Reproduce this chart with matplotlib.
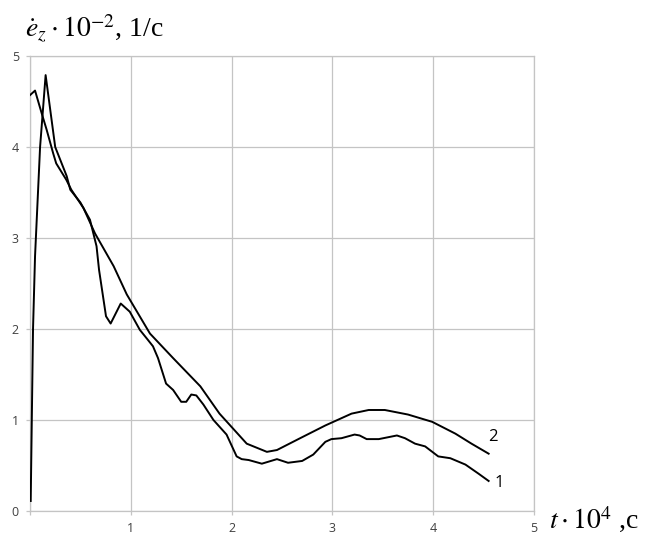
import numpy as np
import matplotlib
matplotlib.use("Agg")
import matplotlib.pyplot as plt

plt.rcParams['mathtext.fontset'] = 'stix'

# curve 1: strain rate, with initial jump
t1 = [0.007, 0.03, 0.05, 0.10, 0.155, 0.25, 0.364, 0.40, 0.50, 0.595, 0.66, 0.685,
      0.754, 0.80, 0.90, 0.99, 1.09, 1.17, 1.22, 1.27, 1.35, 1.42, 1.50, 1.55, 1.60,
      1.65, 1.72, 1.82, 1.95, 2.05, 2.10, 2.17, 2.30, 2.45, 2.56, 2.70, 2.81, 2.93,
      2.99, 3.09, 3.22, 3.27, 3.34, 3.46, 3.64, 3.72, 3.82, 3.92, 4.05, 4.17, 4.32,
      4.45, 4.55]
e1 = [0.11, 2.0, 2.8, 4.0, 4.79, 4.0, 3.68, 3.53, 3.39, 3.2, 2.91, 2.65,
      2.14, 2.06, 2.28, 2.19, 1.99, 1.88, 1.81, 1.68, 1.40, 1.33, 1.20, 1.20, 1.28,
      1.27, 1.17, 1.0, 0.84, 0.60, 0.57, 0.56, 0.52, 0.57, 0.53, 0.55, 0.62, 0.76,
      0.79, 0.80, 0.84, 0.83, 0.79, 0.79, 0.83, 0.80, 0.74, 0.71, 0.60, 0.58, 0.51,
      0.41, 0.33]

# curve 2: smooth one
t2 = [0.0, 0.05, 0.116, 0.165, 0.23, 0.26, 0.36, 0.41, 0.53, 0.645, 0.83, 0.96,
      1.19, 1.42, 1.69, 1.88, 2.15, 2.35, 2.45, 2.68, 2.93, 3.19, 3.36, 3.52, 3.75,
      3.99, 4.22, 4.38, 4.55]
e2 = [4.57, 4.62, 4.37, 4.19, 3.93, 3.82, 3.64, 3.53, 3.33, 3.05, 2.69, 2.38,
      1.95, 1.68, 1.37, 1.07, 0.74, 0.65, 0.67, 0.80, 0.94, 1.07, 1.11, 1.11, 1.06,
      0.98, 0.85, 0.74, 0.63]

ticks = [0, 1, 2, 3, 4, 5]

fig = plt.figure(figsize=(6.5, 5.36), dpi=100)
ax = fig.add_axes([30/650, 25/536, 504/650, 455/536])

gc = '#c4c4c4'
ax.plot(t1, e1, color='black', lw=1.4, zorder=3)
ax.plot(t2, e2, color='black', lw=1.4, zorder=3)

ax.set_xlim(0, 5)
ax.set_ylim(0, 5)
ax.set_xticks(ticks)
ax.set_yticks(ticks)
ax.set_xticklabels(['', '1', '2', '3', '4', '5'])
ax.grid(True, color=gc, lw=0.9)
for s in ax.spines.values():
    s.set_color(gc)
    s.set_linewidth(0.9)
ax.tick_params(length=3, width=0.9, color=gc, labelcolor='#404040', pad=5)
for lab in ax.get_xticklabels() + ax.get_yticklabels():
    lab.set_family('Open Sans')
    lab.set_fontsize(9)

# curve numbers
ax.text(4.59, 0.81, '2', family='Open Sans', fontsize=12, ha='center', va='center')
ax.text(4.65, 0.31, '1', family='Open Sans', fontsize=12, ha='center', va='center')

# axis titles
fig.text(25/650, (536-37)/536, r'$\dot{e}_z\cdot 10^{-2}$, 1/с',
         family='Liberation Serif', fontsize=20, ha='left', va='baseline')
fig.text(549/650, (536-529)/536, r'$t\cdot 10^{4}$ ,с',
         family='Liberation Serif', fontsize=20, ha='left', va='baseline')

fig.savefig('out.png', dpi=100)
